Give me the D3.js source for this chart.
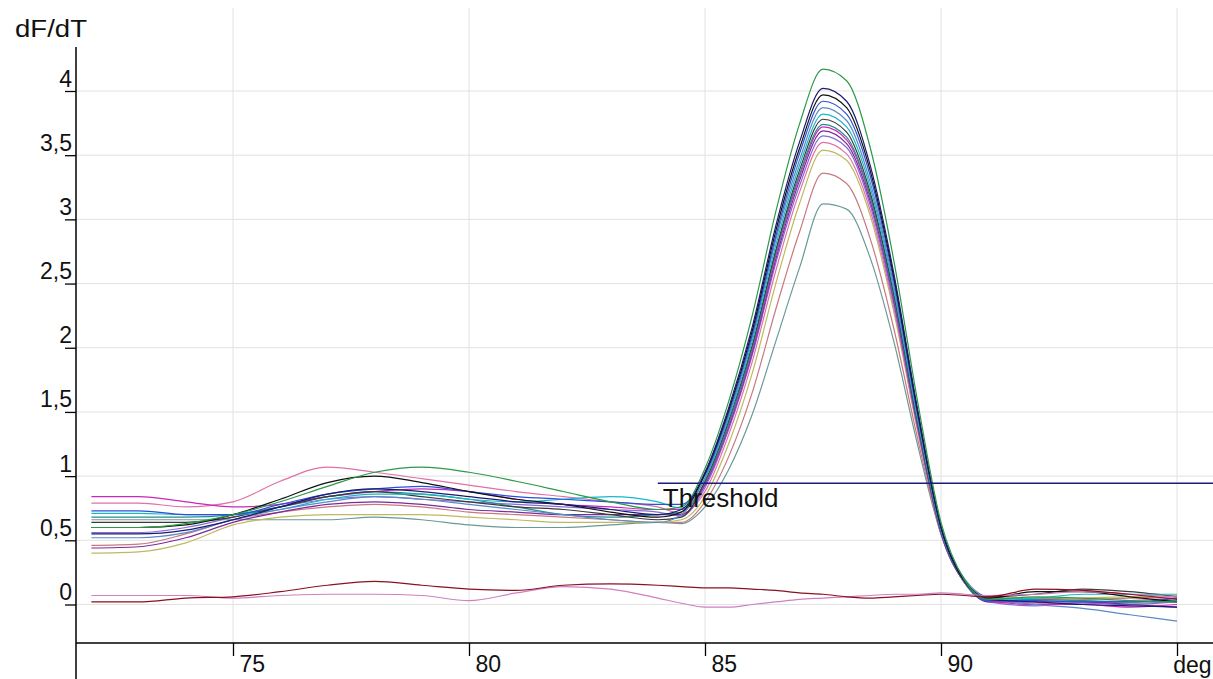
<!DOCTYPE html>
<html>
<head>
<meta charset="utf-8">
<script src="https://cdn.jsdelivr.net/npm/d3@7"></script>
<style>
  html, body { margin: 0; padding: 0; background: #fff; }
  svg { display: block; font-family: "Liberation Sans", Arial, sans-serif; }
</style>
</head>
<body>
<svg id="chart" width="1213" height="679"></svg>
<script>
// Melt curve data (temperature in deg, dF/dT)
const temps = [72, 73, 74, 75, 76, 77, 78, 79, 80, 81, 82, 83, 84,
  84.5, 85, 85.5, 86, 86.5, 87, 87.5, 88, 88.5, 89, 89.5, 90, 90.5, 91,
  92, 93, 94, 95];

const xTicks = [75, 80, 85, 90, 95];
const xTickLabels = ['75', '80', '85', '90', 'deg'];
const yTicks = [0, 0.5, 1, 1.5, 2, 2.5, 3, 3.5, 4];
const yTickLabels = ['0', '0,5', '1', '1,5', '2', '2,5', '3', '3,5', '4'];
const thresholdValue = 0.945;
const thresholdStart = 84;

// one array per well
const wellGreen   = [0.60,0.60,0.63,0.70,0.80,0.92,1.03,1.07,1.03,0.96,0.88,0.80,0.74, 0.76,1.06,1.58,2.25,3.06,3.74,4.17,4.08,3.56,2.68,1.59,0.64,0.19,0.04, 0.06,0.05,0.03,0.02];
const wellNavy    = [0.55,0.55,0.58,0.66,0.76,0.86,0.90,0.88,0.84,0.80,0.78,0.74,0.70, 0.74,1.03,1.53,2.16,2.95,3.60,4.02,3.92,3.42,2.58,1.53,0.61,0.19,0.04, 0.02,0.00,-0.01,-0.02];
const wellBlack   = [0.60,0.60,0.62,0.70,0.82,0.95,1.00,0.95,0.88,0.82,0.78,0.72,0.68, 0.72,1.02,1.51,2.13,2.91,3.55,3.97,3.87,3.38,2.55,1.51,0.60,0.18,0.05, 0.10,0.10,0.06,0.02];
const wellBlue    = [0.73,0.73,0.70,0.70,0.78,0.86,0.90,0.92,0.88,0.84,0.82,0.80,0.78, 0.78,1.01,1.49,2.10,2.87,3.51,3.92,3.82,3.34,2.52,1.49,0.60,0.18,0.03, 0.03,0.02,0.02,0.05];
const wellSteel   = [0.52,0.52,0.56,0.66,0.74,0.80,0.84,0.82,0.78,0.74,0.70,0.66,0.64, 0.70,0.99,1.47,2.08,2.84,3.46,3.87,3.77,3.29,2.48,1.47,0.59,0.18,0.05, 0.00,-0.03,-0.08,-0.13];
const wellCyan    = [0.71,0.71,0.70,0.70,0.74,0.82,0.86,0.86,0.82,0.80,0.82,0.84,0.80, 0.75,0.98,1.45,2.05,2.80,3.42,3.82,3.72,3.25,2.45,1.45,0.58,0.18,0.04, 0.05,0.08,0.08,0.08];
const wellGray    = [0.64,0.64,0.64,0.68,0.76,0.84,0.88,0.84,0.80,0.76,0.74,0.70,0.66, 0.68,0.96,1.43,2.02,2.76,3.38,3.78,3.68,3.21,2.42,1.43,0.57,0.18,0.06, 0.08,0.12,0.10,0.06];
const wellTeal    = [0.68,0.68,0.68,0.70,0.76,0.84,0.88,0.86,0.82,0.76,0.70,0.68,0.70, 0.72,0.95,1.41,2.00,2.74,3.35,3.74,3.64,3.18,2.40,1.42,0.57,0.17,0.03, 0.04,0.03,0.02,0.03];
const wellMagenta = [0.84,0.84,0.80,0.76,0.78,0.84,0.88,0.90,0.88,0.82,0.78,0.76,0.74, 0.74,0.94,1.40,1.98,2.72,3.33,3.72,3.62,3.17,2.39,1.41,0.56,0.17,0.03, 0.00,0.00,-0.02,0.00];
const wellPurple  = [0.44,0.45,0.52,0.64,0.72,0.78,0.80,0.78,0.74,0.72,0.70,0.70,0.70, 0.70,0.93,1.38,1.96,2.69,3.30,3.69,3.59,3.14,2.37,1.40,0.56,0.17,0.02, 0.02,0.02,0.00,-0.02];
const wellViolet  = [0.56,0.56,0.60,0.68,0.76,0.82,0.84,0.82,0.80,0.78,0.76,0.74,0.72, 0.69,0.91,1.36,1.94,2.66,3.26,3.65,3.56,3.11,2.34,1.39,0.55,0.17,0.02, -0.01,0.01,0.00,0.02];
const wellPink    = [0.79,0.79,0.76,0.80,0.96,1.07,1.03,0.98,0.93,0.88,0.84,0.80,0.76, 0.71,0.88,1.32,1.89,2.60,3.21,3.60,3.51,3.07,2.31,1.37,0.55,0.17,0.03, 0.01,0.00,0.03,0.05];
const wellKhaki   = [0.40,0.41,0.48,0.62,0.68,0.70,0.70,0.70,0.68,0.66,0.64,0.64,0.64, 0.66,0.84,1.25,1.80,2.50,3.12,3.54,3.46,3.03,2.28,1.36,0.55,0.17,0.04, 0.03,0.05,0.06,0.07];
const wellSalmon  = [0.46,0.47,0.55,0.66,0.72,0.76,0.78,0.76,0.72,0.70,0.68,0.66,0.64, 0.64,0.80,1.15,1.65,2.30,2.90,3.36,3.28,2.85,2.15,1.30,0.55,0.18,0.05, 0.05,0.04,0.05,0.06];
const wellSage    = [0.66,0.66,0.66,0.66,0.66,0.66,0.68,0.66,0.62,0.60,0.60,0.62,0.64, 0.63,0.76,1.05,1.48,2.05,2.62,3.12,3.08,2.70,2.05,1.25,0.55,0.20,0.06, 0.04,0.03,0.01,0.02];
// negative controls
const ntcRed      = [0.02,0.02,0.05,0.06,0.10,0.15,0.18,0.15,0.12,0.11,0.15,0.16,0.15, 0.14,0.13,0.13,0.12,0.11,0.09,0.08,0.06,0.05,0.06,0.07,0.08,0.07,0.06, 0.12,0.11,0.08,0.04];
const ntcPink     = [0.07,0.07,0.07,0.05,0.07,0.08,0.08,0.07,0.03,0.09,0.14,0.12,0.05, 0.01,-0.02,-0.02,0.00,0.02,0.04,0.05,0.06,0.07,0.08,0.08,0.09,0.08,0.07, 0.08,0.10,0.08,0.06];

const wells = [wellSage, wellSalmon, wellKhaki, wellPink, wellViolet, wellPurple, wellMagenta,
  wellTeal, wellGray, wellCyan, wellSteel, wellBlue, wellBlack, wellNavy, wellGreen, ntcPink, ntcRed];
const wellColors = ['#6a9a98', '#c87880', '#c0b860', '#e070a8', '#8a6ad8', '#7a2a9a', '#c828b8',
  '#2a8a8a', '#3a3a3a', '#18b8c8', '#5a8ac8', '#2850d8', '#111111', '#1a1a70', '#2a9a4a', '#d080c0', '#8b1020'];

const svg = d3.select('#chart');
const axisX = 76, axisY = 643;

const x = d3.scaleLinear().domain([75, 95]).range([233, 1177]);
const y = d3.scaleLinear().domain([0, 4]).range([604.5, 91]);

// grid
svg.append('g').selectAll('line').data(yTicks).enter().append('line')
  .attr('x1', axisX).attr('x2', 1213)
  .attr('y1', d => y(d)).attr('y2', d => y(d))
  .attr('stroke', '#e2e2e2').attr('stroke-width', 1);
svg.append('g').selectAll('line').data(xTicks).enter().append('line')
  .attr('x1', d => x(d)).attr('x2', d => x(d))
  .attr('y1', 8).attr('y2', axisY)
  .attr('stroke', '#e2e2e2').attr('stroke-width', 1);

// curves
const line = d3.line()
  .x((d, i) => x(temps[i]))
  .y(d => y(d))
  .curve(d3.curveMonotoneX);

svg.append('g').selectAll('path').data(wells).enter().append('path')
  .attr('d', d => line(d))
  .attr('fill', 'none')
  .attr('stroke', (d, i) => wellColors[i])
  .attr('stroke-width', 1.2);

// threshold
svg.append('line')
  .attr('x1', x(thresholdStart)).attr('x2', 1213)
  .attr('y1', y(thresholdValue)).attr('y2', y(thresholdValue))
  .attr('stroke', '#1c1c7a').attr('stroke-width', 1.5);
svg.append('text')
  .attr('x', x(thresholdStart) + 5).attr('y', y(thresholdValue) + 24)
  .attr('font-size', 26).attr('fill', '#111')
  .text('Threshold');

// axes
const yAxis = d3.axisLeft(y).tickValues(yTicks).tickSize(11).tickSizeOuter(0)
  .tickFormat((d, i) => yTickLabels[i]);
const gy = svg.append('g').attr('transform', `translate(${axisX},0)`).call(yAxis);
gy.select('.domain').remove();
gy.selectAll('line').attr('stroke', '#000').attr('stroke-width', 1.3);
gy.selectAll('text')
  .attr('x', -4).attr('dy', -5)
  .attr('font-size', 23).attr('font-family', '"Liberation Sans", Arial, sans-serif')
  .attr('fill', '#111');

const xAxis = d3.axisBottom(x).tickValues(xTicks).tickSize(13).tickSizeOuter(0)
  .tickFormat((d, i) => xTickLabels[i]);
const gx = svg.append('g').attr('transform', `translate(0,${axisY})`).call(xAxis);
gx.select('.domain').remove();
gx.selectAll('line').attr('stroke', '#000').attr('stroke-width', 1.3);
gx.selectAll('text')
  .attr('text-anchor', 'start').attr('x', 6).attr('y', 29).attr('dy', 0)
  .attr('font-size', 23).attr('font-family', '"Liberation Sans", Arial, sans-serif')
  .attr('fill', '#111');
gx.selectAll('.tick').filter(d => d === 95).select('text')
  .attr('text-anchor', 'end').attr('x', 1211 - x(95)).attr('y', 30);

svg.append('line').attr('x1', axisX).attr('x2', axisX).attr('y1', 47).attr('y2', 679)
  .attr('stroke', '#000').attr('stroke-width', 1.5);
svg.append('line').attr('x1', axisX).attr('x2', 1213).attr('y1', axisY).attr('y2', axisY)
  .attr('stroke', '#000').attr('stroke-width', 1.5);

svg.append('text')
  .attr('x', 15).attr('y', 37)
  .attr('font-size', 23).attr('textLength', 72).attr('lengthAdjust', 'spacingAndGlyphs')
  .attr('fill', '#111')
  .text('dF/dT');
</script>
</body>
</html>
